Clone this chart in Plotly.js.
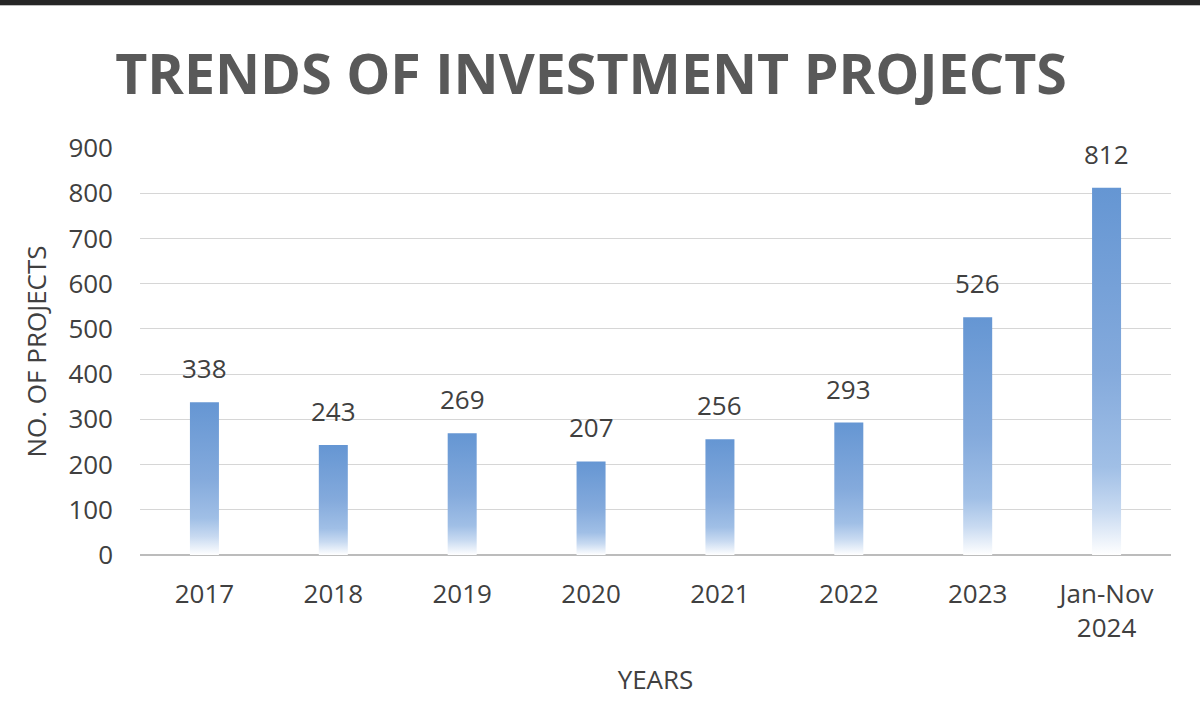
<!DOCTYPE html>
<html><head><meta charset="utf-8">
<script src="https://cdn.plot.ly/plotly-3.0.1.min.js"></script>
<style>
html,body{margin:0;padding:0;background:#fff;}
#topbar{height:5px;background:#262626;border-bottom:1px solid #bdbdbd;}
#chart{width:1200px;height:712px;}
</style></head>
<body>
<div id="topbar"></div>
<div id="chart"></div>
<script>
const categories = ["2017","2018","2019","2020","2021","2022","2023","Jan-Nov<br>2024"];
const projects = [338, 243, 269, 207, 256, 293, 526, 812];
const yTicks = [0,100,200,300,400,500,600,700,800,900];

const FONT = '"Open Sans", "DejaVu Sans", sans-serif';

const trace = {
  type: 'bar',
  x: categories,
  y: projects,
  marker: {color: '#6a9bd6', line: {width: 0}},
  width: 0.225,
  hoverinfo: 'skip'
};

const annotations = categories.map((c, i) => ({
  x: i, y: projects[i], xref: 'x', yref: 'y',
  text: String(projects[i]), showarrow: false,
  yanchor: 'bottom', yshift: 14,
  font: {family: FONT, size: 26, color: '#404040'}
}));

const layout = {
  width: 1200, height: 712,
  margin: {l: 140, r: 29, t: 142, b: 163},
  paper_bgcolor: '#fff', plot_bgcolor: '#fff',
  showlegend: false,
  title: {
    text: 'TRENDS OF INVESTMENT PROJECTS',
    font: {family: FONT, size: 55.5, color: '#595959', weight: 700},
    x: 0.4925, xanchor: 'center', xref: 'container',
    y: 0.903, yanchor: 'middle', yref: 'container'
  },
  xaxis: {
    type: 'category',
    range: [-0.5, categories.length - 0.5],
    tickfont: {family: FONT, size: 26, color: '#404040'},
    ticks: '', showline: false, showgrid: false,
    ticklabelstandoff: 21,
    title: {text: 'YEARS', font: {family: FONT, size: 26, color: '#404040'}, standoff: 27}
  },
  yaxis: {
    range: [0, 900],
    tickvals: yTicks,
    tickfont: {family: FONT, size: 26, color: '#404040'},
    ticks: '', showline: false,
    gridcolor: '#d6d6d6', gridwidth: 1,
    zeroline: true, zerolinecolor: '#bcbcbc', zerolinewidth: 1.5,
    ticklabelstandoff: 26,
    title: {text: 'NO. OF PROJECTS', font: {family: FONT, size: 26, color: '#404040'}, standoff: 14}
  },
  annotations: annotations
};

function applyGradient(gd) {
  const svg = gd.querySelector('svg.main-svg');
  if (!svg) return;
  const ns = 'http://www.w3.org/2000/svg';
  let defs = svg.querySelector('defs');
  if (!defs) { defs = document.createElementNS(ns, 'defs'); svg.insertBefore(defs, svg.firstChild); }
  if (!svg.querySelector('#barGrad')) {
    const g = document.createElementNS(ns, 'linearGradient');
    g.setAttribute('id', 'barGrad');
    g.setAttribute('x1', '0'); g.setAttribute('y1', '0');
    g.setAttribute('x2', '0'); g.setAttribute('y2', '1');
    [['0', '#6596d3'], ['0.5', '#84aadc'], ['0.76', '#a0bfe6'], ['0.88', '#c8daf1'], ['1', '#ffffff']].forEach(([o, c]) => {
      const s = document.createElementNS(ns, 'stop');
      s.setAttribute('offset', o); s.setAttribute('stop-color', c);
      g.appendChild(s);
    });
    defs.appendChild(g);
  }
  gd.querySelectorAll('.barlayer .point path').forEach(p => {
    p.style.fill = 'url(#barGrad)';
    p.style.fillOpacity = 1;
  });
}

Plotly.newPlot('chart', [trace], layout, {displayModeBar: false, staticPlot: true}).then(gd => applyGradient(gd));
</script>
</body></html>
